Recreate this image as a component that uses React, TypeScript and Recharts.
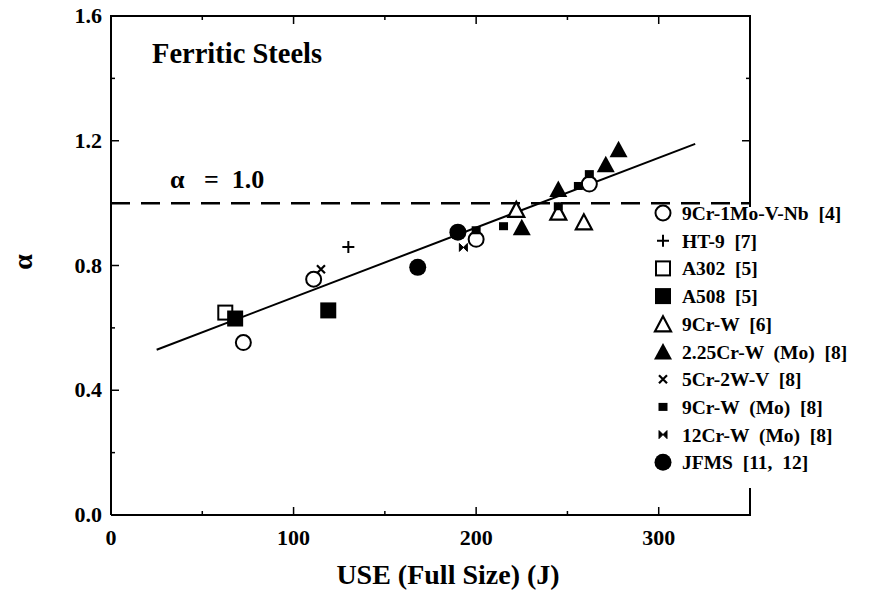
import React from "react";
import { ScatterChart, Scatter, XAxis, YAxis, ReferenceLine } from "recharts";

const FONT = "'Liberation Serif', 'Times New Roman', serif";
const INK = "#000";

const X_MIN = 0;
const X_MAX = 350;
const Y_MIN = 0;
const Y_MAX = 1.6;
const X_TICKS = [0, 50, 100, 150, 200, 250, 300, 350];
const Y_TICKS = [0, 0.2, 0.4, 0.6, 0.8, 1.0, 1.2, 1.4, 1.6];

// USE (J), alpha
const CR9_1MO = [
  { x: 72.5, y: 0.553 },
  { x: 111, y: 0.756 },
  { x: 200, y: 0.884 },
  { x: 262, y: 1.061 },
];
const HT9 = [{ x: 130, y: 0.859 }];
const A302 = [{ x: 62.6, y: 0.649 }];
const A508 = [
  { x: 68, y: 0.63 },
  { x: 119, y: 0.656 },
];
const CR9_W = [
  { x: 222, y: 0.98 },
  { x: 245, y: 0.971 },
  { x: 259, y: 0.94 },
];
const CR225_W = [
  { x: 225, y: 0.923 },
  { x: 245, y: 1.045 },
  { x: 271, y: 1.125 },
  { x: 278, y: 1.173 },
];
const CR5_2W = [{ x: 115, y: 0.788 }];
const CR9_WMO = [
  { x: 200, y: 0.913 },
  { x: 215, y: 0.926 },
  { x: 245, y: 0.99 },
  { x: 256, y: 1.055 },
  { x: 262, y: 1.093 },
];
const CR12_WMO = [{ x: 193, y: 0.858 }];
const JFMS = [
  { x: 168, y: 0.794 },
  { x: 190, y: 0.907 },
];

const FIT_LINE = [
  { x: 25, y: 0.53 },
  { x: 320, y: 1.19 },
];

type Mark = (cx: number, cy: number) => React.ReactElement;

const openCircle: Mark = (cx, cy) => <circle cx={cx} cy={cy} r={7.5} fill="#fff" stroke={INK} strokeWidth={2} />;
const filledCircle: Mark = (cx, cy) => <circle cx={cx} cy={cy} r={8.5} fill={INK} />;
const plus: Mark = (cx, cy) => (
  <path d={`M${cx - 6},${cy}H${cx + 6}M${cx},${cy - 6}V${cy + 6}`} stroke={INK} strokeWidth={2} />
);
const cross: Mark = (cx, cy) => (
  <path d={`M${cx - 4},${cy - 4}L${cx + 4},${cy + 4}M${cx + 4},${cy - 4}L${cx - 4},${cy + 4}`} stroke={INK} strokeWidth={2.2} />
);
const openSquare: Mark = (cx, cy) => (
  <rect x={cx - 7} y={cy - 7} width={14} height={14} fill="#fff" stroke={INK} strokeWidth={2} />
);
const filledSquare: Mark = (cx, cy) => <rect x={cx - 8} y={cy - 8} width={16} height={16} fill={INK} />;
const smallSquare: Mark = (cx, cy) => <rect x={cx - 4.5} y={cy - 4} width={9} height={8} fill={INK} />;
const openTriangle: Mark = (cx, cy) => (
  <polygon
    points={`${cx},${cy - 7.5} ${cx - 8},${cy + 7.5} ${cx + 8},${cy + 7.5}`}
    fill="#fff"
    stroke={INK}
    strokeWidth={2.2}
  />
);
const filledTriangle: Mark = (cx, cy) => (
  <polygon points={`${cx},${cy - 8.5} ${cx - 9},${cy + 8} ${cx + 9},${cy + 8}`} fill={INK} />
);
const bowtie: Mark = (cx, cy) => (
  <path d={`M${cx - 4},${cy - 4}L${cx + 4},${cy + 4}V${cy - 4}L${cx - 4},${cy + 4}Z`} fill={INK} stroke={INK} strokeWidth={1} />
);

const SERIES = [
  { name: "9Cr-1Mo-V-Nb  [4]", data: CR9_1MO, mark: openCircle },
  { name: "HT-9  [7]", data: HT9, mark: plus },
  { name: "A302  [5]", data: A302, mark: openSquare },
  { name: "A508  [5]", data: A508, mark: filledSquare },
  { name: "9Cr-W  [6]", data: CR9_W, mark: openTriangle },
  { name: "2.25Cr-W  (Mo)  [8]", data: CR225_W, mark: filledTriangle },
  { name: "5Cr-2W-V  [8]", data: CR5_2W, mark: cross },
  { name: "9Cr-W  (Mo)  [8]", data: CR9_WMO, mark: smallSquare },
  { name: "12Cr-W  (Mo)  [8]", data: CR12_WMO, mark: bowtie },
  { name: "JFMS  [11,  12]", data: JFMS, mark: filledCircle },
];

// draw order so the small squares sit on top of the circles/triangles
const DRAW_ORDER = [0, 1, 2, 3, 4, 5, 6, 8, 9, 7];

// chart layout
const W = 870;
const H = 593;
const MARGIN = { top: 16, right: 128, bottom: 38, left: 43 };
const Y_AXIS_W = 60;
const X_AXIS_H = 40;
const PLOT_L = MARGIN.left + Y_AXIS_W;
const PLOT_R = W - MARGIN.right;
const PLOT_T = MARGIN.top;
const PLOT_B = H - MARGIN.bottom - X_AXIS_H;
const frameX = (v: number) => PLOT_L + ((v - X_MIN) / (X_MAX - X_MIN)) * (PLOT_R - PLOT_L);
const frameY = (v: number) => PLOT_B - ((v - Y_MIN) / (Y_MAX - Y_MIN)) * (PLOT_B - PLOT_T);

const tickText = { fontFamily: FONT, fontSize: 22, fontWeight: 700, fill: INK };

const isMajorX = (v: number) => v % 100 === 0;
const isMajorY = (v: number) => Math.abs(v / 0.4 - Math.round(v / 0.4)) < 1e-6;

function BottomTick({ x, y, payload }: any) {
  const major = isMajorX(payload.value);
  return (
    <g>
      <line x1={x} x2={x} y1={y} y2={y - (major ? 8 : 4)} stroke={INK} strokeWidth={1.5} />
      {major && payload.value <= 300 && (
        <text x={x} y={y + 30} textAnchor="middle" {...tickText}>
          {payload.value}
        </text>
      )}
    </g>
  );
}

function LeftTick({ x, y, payload }: any) {
  const major = isMajorY(payload.value);
  return (
    <g>
      <line x1={x} x2={x + (major ? 8 : 4)} y1={y} y2={y} stroke={INK} strokeWidth={1.5} />
      {major && (
        <text x={x - 9} y={y + 7} textAnchor="end" {...tickText}>
          {payload.value.toFixed(1)}
        </text>
      )}
    </g>
  );
}

const axisLine = { stroke: INK, strokeWidth: 2 };

export default function App() {
  return (
    <div style={{ position: "relative", width: W, height: H, marginTop: -8, background: "#fff" }}>
      <ScatterChart width={W} height={H} margin={MARGIN}>
        <XAxis
          type="number"
          dataKey="x"
          domain={[X_MIN, X_MAX]}
          ticks={X_TICKS}
          interval={0}
          height={X_AXIS_H}
          tickSize={0}
          tickMargin={0}
          tickLine={false}
          axisLine={axisLine}
          tick={<BottomTick />}
        />
        <YAxis
          type="number"
          dataKey="y"
          domain={[Y_MIN, Y_MAX]}
          ticks={Y_TICKS}
          interval={0}
          width={Y_AXIS_W}
          tickSize={0}
          tickMargin={0}
          tickLine={false}
          axisLine={axisLine}
          tick={<LeftTick />}
        />
        <ReferenceLine y={1.0} stroke={INK} strokeWidth={2.5} strokeDasharray="19 11" />
        <Scatter
          data={FIT_LINE}
          line={{ stroke: INK, strokeWidth: 2 }}
          shape={() => <g />}
          isAnimationActive={false}
        />
        {DRAW_ORDER.map((i) => {
          const s = SERIES[i];
          return (
            <Scatter
              key={s.name}
              name={s.name}
              data={s.data}
              shape={(p: any) => s.mark(p.cx, p.cy)}
              isAnimationActive={false}
            />
          );
        })}
      </ScatterChart>
      <svg width={W} height={H} style={{ position: "absolute", left: 0, top: 0, pointerEvents: "none" }}>
        {/* top and right frame edges as filled bars */}
        <rect x={PLOT_L - 1} y={PLOT_T - 1} width={PLOT_R - PLOT_L + 2} height={2} fill={INK} />
        <rect x={PLOT_R - 1} y={PLOT_T - 1} width={2} height={PLOT_B - PLOT_T + 2} fill={INK} />
        {X_TICKS.slice(1, -1).map((v) => (
          <rect
            key={`tx${v}`}
            x={frameX(v) - 0.75}
            y={PLOT_T}
            width={1.5}
            height={isMajorX(v) ? 8 : 4}
            fill={INK}
          />
        ))}
        {Y_TICKS.slice(1, -1).map((v) => (
          <rect
            key={`ty${v}`}
            x={PLOT_R - (isMajorY(v) ? 8 : 4)}
            y={frameY(v) - 0.75}
            width={isMajorY(v) ? 8 : 4}
            height={1.5}
            fill={INK}
          />
        ))}
        <text x={144} y={63} fontFamily={FONT} fontSize={28.5} fontWeight={700} fill={INK}>
          Ferritic Steels
        </text>
        <text x={162} y={188} fontFamily={FONT} fontSize={26} fontWeight={700} fill={INK} style={{ whiteSpace: "pre" }}>
          {"α   =  1.0"}
        </text>
        <text x={440} y={584} textAnchor="middle" fontFamily={FONT} fontSize={28} fontWeight={700} fill={INK}>
          USE (Full Size) (J)
        </text>
        <text
          x={24}
          y={262}
          transform="rotate(-90 24 262)"
          textAnchor="middle"
          fontFamily={FONT}
          fontSize={28}
          fontWeight={700}
          fill={INK}
        >
          α
        </text>
        {/* legend box is opaque and hides the right frame edge behind it */}
        <rect x={637} y={207} width={230} height={281} fill="#fff" />
        {SERIES.map((s, i) => {
          const cy = 213 + i * 27.7;
          return (
            <g key={s.name}>
              {s.mark(655, cy)}
              <text
                x={674}
                y={cy + 7}
                fontFamily={FONT}
                fontSize={19.5}
                fontWeight={700}
                fill={INK}
                style={{ whiteSpace: "pre" }}
              >
                {s.name}
              </text>
            </g>
          );
        })}
      </svg>
    </div>
  );
}
